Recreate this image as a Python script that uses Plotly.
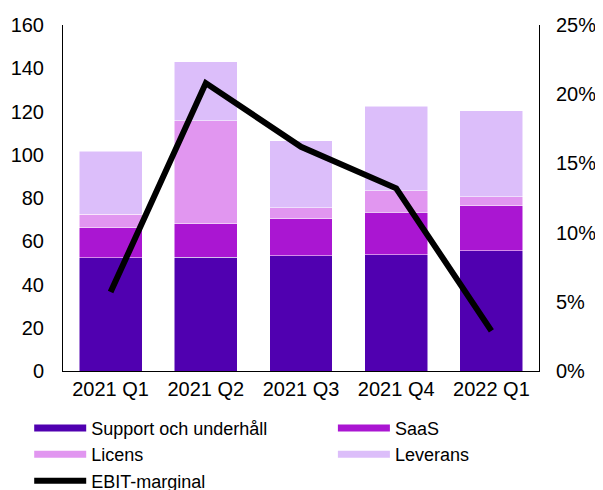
import plotly.graph_objects as go

categories = ["2021 Q1", "2021 Q2", "2021 Q3", "2021 Q4", "2022 Q1"]
support = [52.3, 52.7, 53.3, 53.8, 55.6]
saas = [14.0, 15.4, 17.0, 19.6, 20.9]
licens = [6.3, 47.7, 5.2, 10.0, 4.0]
leverans = [29.1, 27.2, 31.0, 39.0, 39.9]
ebit_margin = [0.057, 0.208, 0.162, 0.132, 0.029]

series = [
    ("Support och underhåll", support, "#5000B0", "legend"),
    ("SaaS", saas, "#AA16D2", "legend2"),
    ("Licens", licens, "#E196F0", "legend"),
    ("Leverans", leverans, "#DCBEFA", "legend2"),
]

fig = go.Figure()
for name, vals, col, leg in series:
    fig.add_trace(go.Bar(
        x=categories, y=vals, name=name,
        marker=dict(color=col, line=dict(color="white", width=0.5)),
        showlegend=False,
    ))
for name, vals, col, leg in series:
    fig.add_trace(go.Scatter(
        x=[None], y=[None], mode="lines", name=name, legend=leg,
        line=dict(color=col, width=7),
    ))

fig.add_trace(go.Scatter(
    x=categories, y=ebit_margin, name="EBIT-marginal", mode="lines",
    line=dict(color="black", width=6), yaxis="y2", legend="legend",
))

font = dict(family="Liberation Sans, Arial, sans-serif", size=20, color="black")
legend_common = dict(orientation="v", yanchor="top", xanchor="left", traceorder="normal",
                     itemwidth=52, font=dict(size=18), tracegroupgap=0,
                     bgcolor="rgba(0,0,0,0)")
fig.update_layout(
    width=595, height=482,
    barmode="stack", bargap=0.34,
    plot_bgcolor="white", paper_bgcolor="white",
    margin=dict(l=55, r=64, t=17, b=119, autoexpand=False),
    font=font,
    xaxis=dict(showline=True, linecolor="black", linewidth=1, ticks="", showgrid=False,
               tickfont=dict(size=20)),
    yaxis=dict(range=[0, 160], dtick=20, showline=True, linecolor="black", linewidth=1,
               showgrid=False, zeroline=False, ticks="", tickfont=dict(size=20),
               ticklabelstandoff=14),
    yaxis2=dict(range=[0, 0.25], dtick=0.05, tickformat=".0%", overlaying="y", side="right",
                showline=True, linecolor="black", linewidth=1, showgrid=False, zeroline=False,
                ticks="", tickfont=dict(size=20), ticklabelstandoff=12),
    legend=dict(x=-0.071, y=-0.112, **legend_common),
    legend2=dict(x=0.567, y=-0.112, **legend_common),
    showlegend=True,
)

fig.write_html("out.html")
